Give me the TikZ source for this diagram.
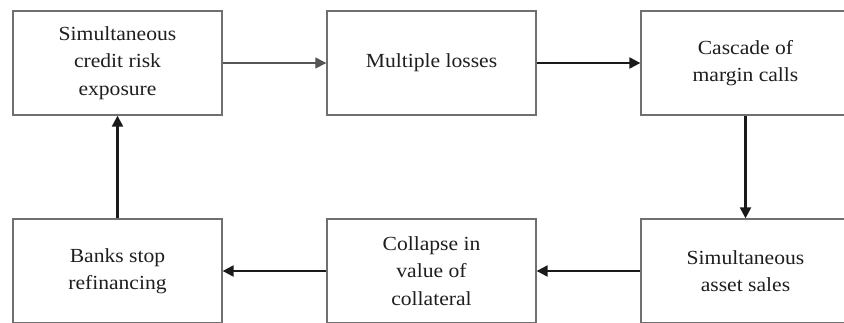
\documentclass[tikz,border=0pt]{standalone}
\usepackage{fontspec}
\setmainfont{Liberation Serif}[FakeStretch=1.08]
\usetikzlibrary{arrows.meta}
\definecolor{boxgray}{HTML}{707070}
\definecolor{txt}{HTML}{1E1E1E}
\definecolor{arrdark}{HTML}{1A1A1A}
\definecolor{arrgray}{HTML}{555555}
\begin{document}
\begin{tikzpicture}[x=1pt,y=-1pt,
  flowbox/.style={draw=boxgray,line width=1.3pt,minimum width=209pt,minimum height=104pt,
    inner sep=0pt,align=center,text=txt,font=\fontsize{20}{27.5}\selectfont},
  thinarr/.style={draw=arrgray,line width=1.2pt,-{Triangle[length=11pt,width=11pt]}},
  thickarr/.style={draw=arrdark,line width=2.2pt,-{Triangle[length=11pt,width=11pt]}}]
\useasboundingbox (0,0) rectangle (844,322);
\clip (0,0) rectangle (844,322);
\node[flowbox] (b1) at (117.5,63) {Simultaneous\\credit risk\\exposure};
\node[flowbox] (b2) at (431.5,63) {Multiple losses};
\node[flowbox] (b3) at (745.5,63) {Cascade of\\margin calls};
\node[flowbox] (b4) at (117.5,271) {Banks stop\\refinancing};
\node[flowbox] (b5) at (431.5,271) {Collapse in\\value of\\collateral};
\node[flowbox] (b6) at (745.5,271) {Simultaneous\\asset sales};
\draw[thinarr] (b1) -- (b2);
\draw[thickarr] (b2) -- (b3);
\draw[thickarr] (b3) -- (b6);
\draw[thickarr] (b6) -- (b5);
\draw[thickarr] (b5) -- (b4);
\draw[thickarr] (b4) -- (b1);
\end{tikzpicture}
\end{document}
